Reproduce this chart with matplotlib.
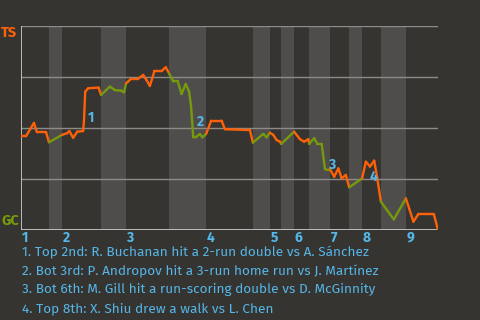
import numpy as np
import matplotlib
matplotlib.use("Agg")
from matplotlib import pyplot as plt
from matplotlib.collections import LineCollection

# event index (0-100) and win probability for TS (1 = TS, 0 = GC)
x = [0.0, 1.2, 3.1, 3.8, 6.0, 6.7, 9.8, 11.0, 11.6, 12.5, 13.5, 14.9, 15.1, 15.4,
     16.1, 18.6, 19.2, 21.3, 22.5, 24.0, 24.7, 25.2, 25.7, 26.4, 28.1, 29.3, 30.1,
     30.9, 32.0, 33.7, 34.7, 35.5, 36.5, 37.6, 38.5, 39.5, 40.3, 40.8, 41.3, 41.9,
     42.9, 43.5, 44.4, 45.6, 48.1, 48.9, 54.9, 55.6, 58.1, 58.9, 59.7, 60.5, 61.3,
     62.1, 62.4, 65.5, 66.9, 67.9, 68.9, 69.1, 70.3, 71.1, 72.1, 72.9, 73.7, 74.1,
     75.1, 76.1, 76.9, 77.9, 78.7, 81.8, 82.7, 83.7, 84.7, 85.4, 86.3, 89.4, 92.3,
     94.1, 95.3, 99.0, 100.0]
wp = [0.46, 0.46, 0.525, 0.48, 0.48, 0.43, 0.466, 0.474, 0.485, 0.452, 0.482, 0.485,
      0.534, 0.678, 0.695, 0.698, 0.662, 0.703, 0.686, 0.683, 0.675, 0.719, 0.728,
      0.742, 0.742, 0.76, 0.735, 0.706, 0.779, 0.779, 0.798, 0.768, 0.728, 0.728,
      0.667, 0.716, 0.678, 0.604, 0.454, 0.454, 0.471, 0.454, 0.471, 0.536, 0.536,
      0.494, 0.49, 0.428, 0.471, 0.454, 0.477, 0.466, 0.441, 0.433, 0.422, 0.482,
      0.445, 0.433, 0.445, 0.422, 0.45, 0.422, 0.422, 0.298, 0.294, 0.298, 0.261,
      0.302, 0.253, 0.27, 0.209, 0.253, 0.335, 0.311, 0.34, 0.258, 0.139, 0.052,
      0.155, 0.041, 0.078, 0.078, 0.0]

# half-inning boundaries: top1, bot1, top2, bot2, ...
half_starts = [0.0, 6.7, 9.8, 19.2, 25.2, 35.5, 44.4, 55.6, 59.7, 62.4, 65.5, 69.1,
               74.1, 78.7, 81.8, 86.3, 92.3]
innings = ["1", "2", "3", "4", "5", "6", "7", "8", "9"]

events = [
    "1. Top 2nd: R. Buchanan hit a 2-run double vs A. Sánchez",
    "2. Bot 3rd: P. Andropov hit a 3-run home run vs J. Martínez",
    "3. Bot 6th: M. Gill hit a run-scoring double vs D. McGinnity",
    "4. Top 8th: X. Shiu drew a walk vs L. Chen",
]
event_x = [16.1, 42.2, 73.9, 83.5]
event_y = [0.55, 0.53, 0.32, 0.26]

bg = "#363430"
band = "#4e4d4b"
orange = "#ff6108"
green = "#759b0c"
blue = "#55b6e8"

plt.rcParams['font.family'] = ['Fira Sans', 'Open Sans', 'DejaVu Sans']

fig = plt.figure(figsize=(4.8, 3.2), dpi=100, facecolor=bg)
ax = fig.add_axes([21 / 480, 90 / 320, 417 / 480, 204 / 320])
ax.set_facecolor(bg)
ax.set_xlim(0, 100)
ax.set_ylim(0, 1)

# bottom half-innings shaded
for i in range(1, len(half_starts), 2):
    end = half_starts[i + 1] if i + 1 < len(half_starts) else 100
    ax.axvspan(half_starts[i], end, color=band, lw=0, zorder=0)

for g in [0.25, 0.5, 0.75, 1.0]:
    ax.axhline(g, color="#8c8b88", lw=1, zorder=1)

for s in ax.spines.values():
    s.set_visible(False)
ax.axvline(0, color="#d2d2d0", lw=1.2, zorder=2)
ax.axhline(0, color="#d2d2d0", lw=1.2, zorder=2)
ax.set_xticks([])
ax.set_yticks([])

pts = np.column_stack([x, wp])
segs = np.stack([pts[:-1], pts[1:]], axis=1)
mid = (pts[:-1, 0] + pts[1:, 0]) / 2
idx = np.searchsorted(half_starts, mid, side="right") - 1
cols = [orange if k % 2 == 0 else green for k in idx]
ax.add_collection(LineCollection(segs, colors=cols, linewidths=1.7, zorder=3,
                                 capstyle="round", joinstyle="round"))

for lab, ex, ey in zip(["1", "2", "3", "4"], event_x, event_y):
    ax.text(ex, ey, lab, color=blue, fontsize=10, fontweight="bold",
            ha="left", va="center", zorder=4)

for k, lab in enumerate(innings):
    ax.text(half_starts[2 * k] + 0.2, -0.038, lab, color=blue, fontsize=10,
            fontweight="bold", ha="left", va="center", clip_on=False)

fig.text(1 / 480, 1 - 33 / 320, "TS", color=orange, fontsize=10.5, fontweight="bold",
         ha="left", va="center")
fig.text(1 / 480, 1 - 221 / 320, "GC", color=green, fontsize=10.5, fontweight="bold",
         ha="left", va="center")

for k, line in enumerate(events):
    fig.text(22 / 480, 1 - (252 + 19 * k) / 320, line, color=blue, fontsize=9.8,
             ha="left", va="center")

fig.savefig("out.png", dpi=100, facecolor=bg)
